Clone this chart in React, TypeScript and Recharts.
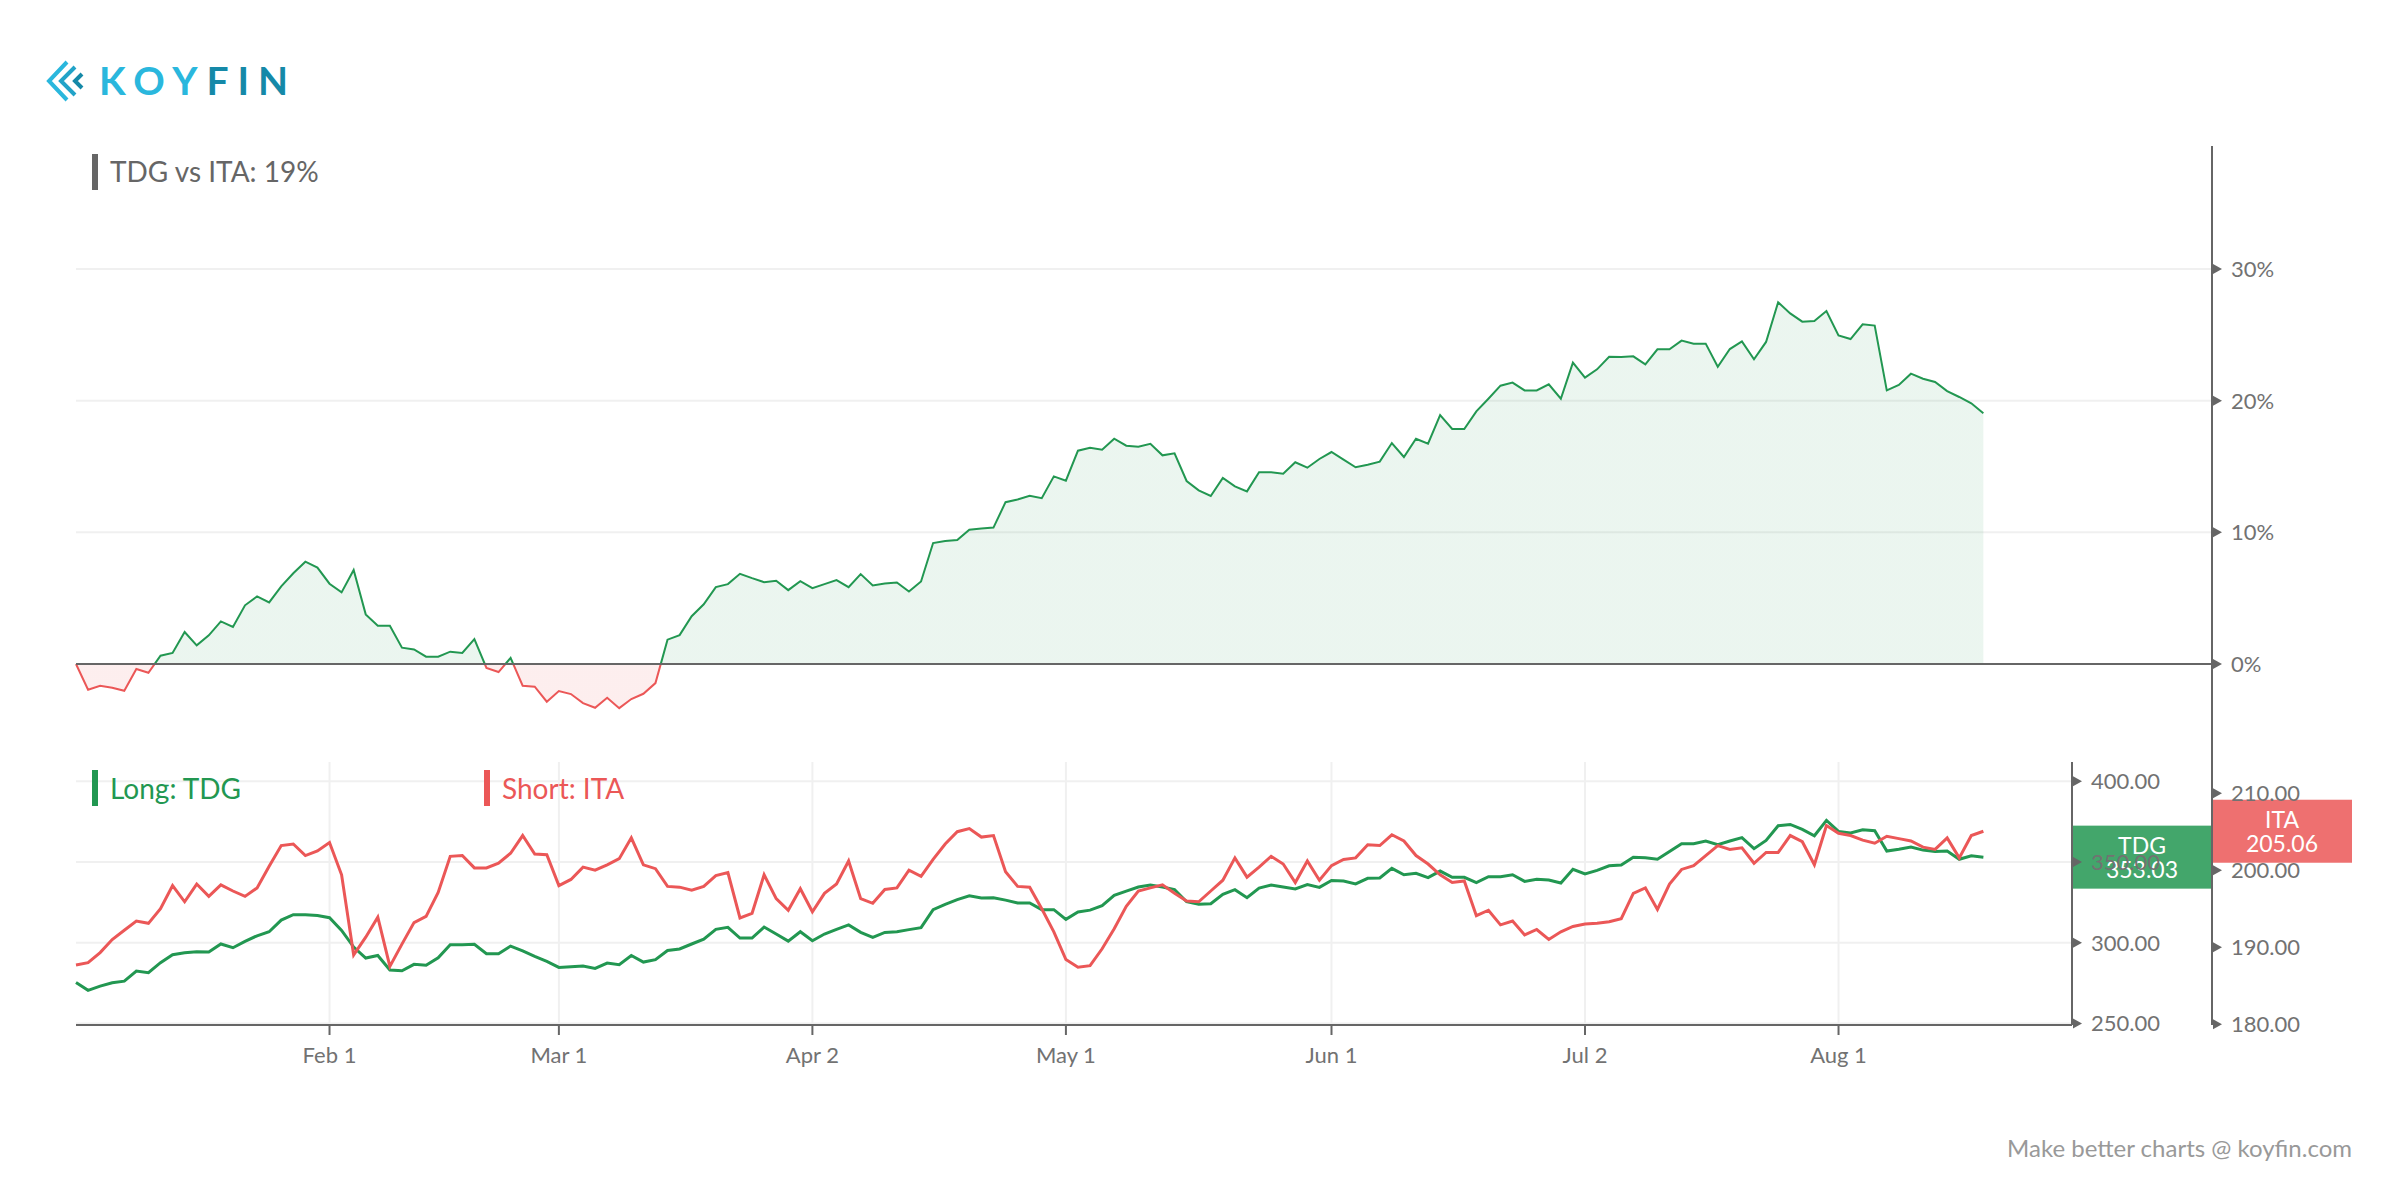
import React from 'react';
import { ComposedChart, Area, Line, XAxis, YAxis, CartesianGrid, ReferenceLine } from 'recharts';

// Relative performance TDG vs ITA (%), one value per trading day from Jan 2 to Aug 17
const spread = [
  0, -1.95, -1.65, -1.8, -2.03, -0.38, -0.66, 0.63, 0.84, 2.43,
  1.42, 2.18, 3.24, 2.81, 4.46, 5.14, 4.68, 5.9, 6.89, 7.77,
  7.32, 6.1, 5.44, 7.14, 3.77, 2.91, 2.91, 1.24, 1.11, 0.56,
  0.56, 0.94, 0.84, 1.9, -0.3, -0.61, 0.46, -1.65, -1.72, -2.86,
  -2.05, -2.28, -2.97, -3.32, -2.56, -3.35, -2.66, -2.26, -1.45, 1.85,
  2.2, 3.63, 4.54, 5.84, 6.07, 6.85, 6.52, 6.22, 6.32, 5.61,
  6.29, 5.76, 6.07, 6.37, 5.84, 6.83, 5.97, 6.12, 6.19, 5.51,
  6.27, 9.19, 9.34, 9.42, 10.2, 10.3, 10.36, 12.29, 12.5, 12.77,
  12.6, 14.25, 13.92, 16.2, 16.43, 16.28, 17.11, 16.58, 16.51, 16.73,
  15.85, 16.0, 13.9, 13.19, 12.76, 14.13, 13.49, 13.11, 14.56, 14.56,
  14.46, 15.32, 14.91, 15.57, 16.1, 15.52, 14.94, 15.14, 15.37, 16.78,
  15.72, 17.11, 16.73, 18.91, 17.85, 17.85, 19.19, 20.15, 21.14, 21.37,
  20.78, 20.78, 21.24, 20.15, 22.89, 21.75, 22.38, 23.34, 23.32, 23.37,
  22.76, 23.9, 23.9, 24.56, 24.33, 24.33, 22.58, 23.92, 24.5, 23.14,
  24.46, 27.47, 26.63, 26.0, 26.05, 26.81, 24.96, 24.68, 25.8, 25.7,
  20.78, 21.19, 22.05, 21.67, 21.42, 20.73, 20.28, 19.8, 19.04,
];

// Long: TDG price
const tdg = [
  275.4, 270.5, 273.1, 275.2, 276.2, 282.4, 281.4, 287.6, 292.6, 293.8,
  294.4, 294.2, 299.2, 296.9, 300.8, 304.3, 306.8, 314.0, 317.4, 317.4,
  316.9, 315.5, 307.6, 297.3, 290.5, 292.1, 283.1, 282.6, 286.6, 286.0,
  290.7, 298.8, 298.8, 299.0, 293.2, 293.2, 297.9, 295.0, 291.5, 288.4,
  284.7, 285.1, 285.5, 284.1, 287.4, 286.4, 292.1, 288.0, 289.5, 295.2,
  296.1, 299.2, 302.2, 308.3, 309.5, 302.9, 302.9, 309.7, 305.4, 301.0,
  306.8, 301.2, 305.4, 308.3, 311.0, 306.4, 303.3, 306.4, 306.8, 308.1,
  309.3, 320.5, 323.8, 326.7, 329.1, 327.7, 327.9, 326.4, 324.6, 324.6,
  320.5, 320.5, 314.5, 319.0, 320.2, 322.9, 329.3, 332.0, 334.5, 335.7,
  334.5, 332.9, 325.4, 323.8, 324.2, 330.0, 332.9, 327.9, 333.9, 335.7,
  334.5, 333.3, 336.0, 334.3, 338.6, 338.2, 336.4, 339.9, 340.1, 346.1,
  342.1, 343.0, 340.3, 344.4, 340.5, 340.5, 337.2, 340.9, 340.9, 342.1,
  338.0, 339.3, 338.8, 337.0, 345.5, 342.6, 344.8, 347.7, 348.1, 352.9,
  352.7, 351.7, 356.6, 361.4, 361.4, 363.0, 360.7, 363.0, 365.1, 358.3,
  363.4, 372.5, 373.3, 370.2, 366.3, 375.8, 369.0, 368.0, 370.0, 369.4,
  356.8, 357.9, 359.3, 357.4, 356.6, 356.8, 351.7, 353.9, 353.03,
];

// Short: ITA price
const ita = [
  187.7, 188.0, 189.3, 191.0, 192.2, 193.4, 193.1, 195.0, 198.0, 195.9,
  198.2, 196.6, 198.1, 197.3, 196.6, 197.7, 200.5, 203.2, 203.4, 201.9,
  202.5, 203.6, 199.4, 189.0, 191.3, 193.9, 187.5, 190.4, 193.2, 194.0,
  197.1, 201.8, 201.9, 200.3, 200.3, 200.9, 202.2, 204.5, 202.1, 202.0,
  198.0, 198.8, 200.4, 200.0, 200.7, 201.5, 204.2, 200.7, 200.2, 197.9,
  197.8, 197.4, 197.9, 199.3, 199.7, 193.8, 194.4, 199.4, 196.3, 194.8,
  197.6, 194.6, 197.0, 198.2, 201.2, 196.3, 195.7, 197.5, 197.7, 200.0,
  199.2, 201.4, 203.4, 205.0, 205.4, 204.3, 204.5, 199.8, 197.9, 197.8,
  195.0, 192.0, 188.4, 187.4, 187.6, 189.8, 192.4, 195.3, 197.3, 197.7,
  198.1, 197.0, 196.0, 195.9, 197.3, 198.7, 201.6, 199.1, 200.4, 201.8,
  200.8, 198.4, 201.2, 198.7, 200.6, 201.4, 201.6, 203.3, 203.2, 204.6,
  203.8, 201.9, 200.8, 199.4, 198.4, 198.6, 194.1, 194.8, 192.9, 193.4,
  191.6, 192.3, 191.0, 192.0, 192.7, 193.0, 193.1, 193.3, 193.7, 197.0,
  197.7, 194.9, 198.2, 200.1, 200.6, 201.9, 203.2, 202.7, 202.9, 200.9,
  202.3, 202.3, 204.5, 203.7, 200.7, 205.8, 204.8, 204.5, 203.9, 203.5,
  204.4, 204.1, 203.8, 203.0, 202.7, 204.2, 201.6, 204.5, 205.06,
];

// x-axis: trading-day index of each labelled date
const dateTickIndex = [21, 40, 61, 82, 104, 125, 146];
const dateTickLabels = ['Feb 1', 'Mar 1', 'Apr 2', 'May 1', 'Jun 1', 'Jul 2', 'Aug 1'];
const spreadTicks = [0, 10, 20, 30];
const tdgTicks = [250, 300, 350, 400];
const itaTicks = [180, 190, 200, 210];

const data = spread.map((s, i) => ({ i, spread: s, tdg: tdg[i], ita: ita[i] }));

const FONT = 'Lato, "Noto Sans", "DejaVu Sans", sans-serif';
const GREEN = '#229751';
const RED = '#eb5757';
const AXIS = '#666666';
const TICK_TEXT = '#727272';
const GRID = '#f0f0f0';

const sMax = Math.max(...spread);
const sMin = Math.min(...spread);
const zeroOffset = sMax / (sMax - sMin);

const makeRightTick = (fmt: (v: number) => string) => (props: any) => {
  const { x, y, payload } = props;
  return (
    <g>
      <path d={`M${x + 1},${y - 5}L${x + 10},${y}L${x + 1},${y + 5}Z`} fill={AXIS} />
      <text x={x + 19} y={y} dy="0.36em" fontSize={22} fill={TICK_TEXT} fontFamily={FONT}>
        {fmt(payload.value)}
      </text>
    </g>
  );
};

const XTick = (props: any) => {
  const { x, y, payload } = props;
  const k = dateTickIndex.indexOf(payload.value);
  return (
    <text x={x} y={y + 28} textAnchor="middle" fontSize={22} fill={TICK_TEXT} fontFamily={FONT}>
      {k >= 0 ? dateTickLabels[k] : ''}
    </text>
  );
};

const PriceBox = (props: any) => {
  const { viewBox, shift, color, name, value } = props;
  const { x, y, width } = viewBox;
  const bx = x + width + shift;
  return (
    <g>
      <rect x={bx + 1} y={y - 31.5} width={139} height={63} fill={color} fillOpacity={0.85} />
      <text x={bx + 70} y={y - 3} textAnchor="middle" fontSize={23} fill="#ffffff" fontFamily={FONT}>
        {name}
      </text>
      <text x={bx + 70} y={y + 21} textAnchor="middle" fontSize={23} fill="#ffffff" fontFamily={FONT}>
        {value.toFixed(2)}
      </text>
    </g>
  );
};

const lastTdg = tdg[tdg.length - 1];
const lastIta = ita[ita.length - 1];

export default function App() {
  return (
    <div style={{ position: 'absolute', left: 0, top: 0, width: 2400, height: 1200, background: '#fff', fontFamily: FONT }}>
      <div style={{ position: 'absolute', left: 0, top: 0 }}>
        <ComposedChart width={2400} height={770} data={data} margin={{ top: 146, right: 48, bottom: 8, left: 76 }}>
          <defs>
            <linearGradient id="spreadStroke" x1="0" y1="0" x2="0" y2="1">
              <stop offset={zeroOffset} stopColor={GREEN} />
              <stop offset={zeroOffset} stopColor={RED} />
            </linearGradient>
            <linearGradient id="spreadFill" x1="0" y1="0" x2="0" y2="1">
              <stop offset={zeroOffset} stopColor={GREEN} stopOpacity={0.09} />
              <stop offset={zeroOffset} stopColor={RED} stopOpacity={0.1} />
            </linearGradient>
          </defs>
          <CartesianGrid stroke={GRID} strokeWidth={2} syncWithTicks />
          <XAxis
            dataKey="i"
            type="number"
            domain={[0, 176.94]}
            ticks={dateTickIndex}
            tick={false}
            tickLine={false}
            height={0}
            axisLine={{ stroke: '#c8c8c8', strokeWidth: 2 }}
          />
          <YAxis
            orientation="right"
            type="number"
            domain={[-7.44, 39.34]}
            ticks={spreadTicks}
            width={140}
            axisLine={{ stroke: AXIS, strokeWidth: 2 }}
            tickLine={false}
            tickSize={0}
            tickMargin={0}
            tick={makeRightTick((v) => `${v}%`)}
          />
          <Area
            dataKey="spread"
            type="linear"
            baseValue={0}
            stroke="url(#spreadStroke)"
            strokeWidth={2}
            fill="url(#spreadFill)"
            fillOpacity={1}
            dot={false}
            activeDot={false}
            isAnimationActive={false}
          />
          <ReferenceLine y={0} stroke={AXIS} strokeWidth={2} />
        </ComposedChart>
      </div>

      <div style={{ position: 'absolute', left: 0, top: 740 }}>
        <ComposedChart width={2400} height={360} data={data} margin={{ top: 22, right: 48, bottom: 25, left: 76 }}>
          <CartesianGrid stroke={GRID} strokeWidth={2} yAxisId="a_tdg" syncWithTicks />
          <XAxis
            dataKey="i"
            type="number"
            domain={[0, 165.34]}
            ticks={dateTickIndex}
            height={50}
            axisLine={{ stroke: AXIS, strokeWidth: 2 }}
            tickLine={{ stroke: AXIS, strokeWidth: 2 }}
            tickSize={10}
            tickMargin={0}
            tick={XTick}
          />
          <YAxis
            yAxisId="b_ita"
            orientation="right"
            type="number"
            domain={[179.9, 214.05]}
            ticks={itaTicks}
            width={140}
            axisLine={{ stroke: AXIS, strokeWidth: 2 }}
            tickLine={false}
            tickSize={0}
            tickMargin={0}
            tick={makeRightTick((v) => v.toFixed(2))}
          />
          <YAxis
            yAxisId="a_tdg"
            orientation="right"
            type="number"
            domain={[249, 412]}
            ticks={tdgTicks}
            width={140}
            axisLine={{ stroke: AXIS, strokeWidth: 2 }}
            tickLine={false}
            tickSize={0}
            tickMargin={0}
            tick={makeRightTick((v) => v.toFixed(2))}
          />
          <Line yAxisId="a_tdg" dataKey="tdg" type="linear" stroke={GREEN} strokeWidth={3} dot={false} activeDot={false} isAnimationActive={false} />
          <Line yAxisId="b_ita" dataKey="ita" type="linear" stroke={RED} strokeWidth={3} dot={false} activeDot={false} isAnimationActive={false} />
          <ReferenceLine
            yAxisId="a_tdg"
            y={lastTdg}
            stroke="none"
            label={(p: any) => <PriceBox {...p} shift={0} color={GREEN} name="TDG" value={lastTdg} />}
          />
          <ReferenceLine
            yAxisId="b_ita"
            y={lastIta}
            stroke="none"
            label={(p: any) => <PriceBox {...p} shift={140} color={RED} name="ITA" value={lastIta} />}
          />
        </ComposedChart>
      </div>

      <svg
        width={2400}
        height={1200}
        style={{ position: 'absolute', left: 0, top: 0, pointerEvents: 'none' }}
      >
        {/* logo */}
        <g fill="none" strokeWidth={4} strokeLinejoin="miter">
          <polyline points="67,62 49,81 67,100" stroke="#2ab7dd" />
          <polyline points="75,67 61,81 75,95" stroke="#22a3c8" />
          <polyline points="82,74 75,81 82,88" stroke="#1589a8" />
        </g>
        <text x={99} y={95} fontSize={39} fontWeight={700} letterSpacing={9} fontFamily={FONT}>
          <tspan fill="#2ab7dd">KOY</tspan>
          <tspan fill="#1589a8">FIN</tspan>
        </text>

        {/* panel title */}
        <rect x={92} y={154} width={6} height={36} fill="#666" />
        <text x={110} y={182} fontSize={28} fill="#666" fontFamily={FONT}>TDG vs ITA: 19%</text>

        {/* legend */}
        <rect x={92} y={770} width={6} height={36} fill={GREEN} />
        <text x={110} y={799} fontSize={28} fill={GREEN} fontFamily={FONT}>Long: TDG</text>
        <rect x={484} y={770} width={6} height={36} fill={RED} />
        <text x={502} y={799} fontSize={28} fill={RED} fontFamily={FONT}>Short: ITA</text>

        {/* footer */}
        <text x={2352} y={1157} textAnchor="end" fontSize={24} fill="#999" fontFamily={FONT}>
          Make better charts @ koyfin.com
        </text>
      </svg>
    </div>
  );
}
